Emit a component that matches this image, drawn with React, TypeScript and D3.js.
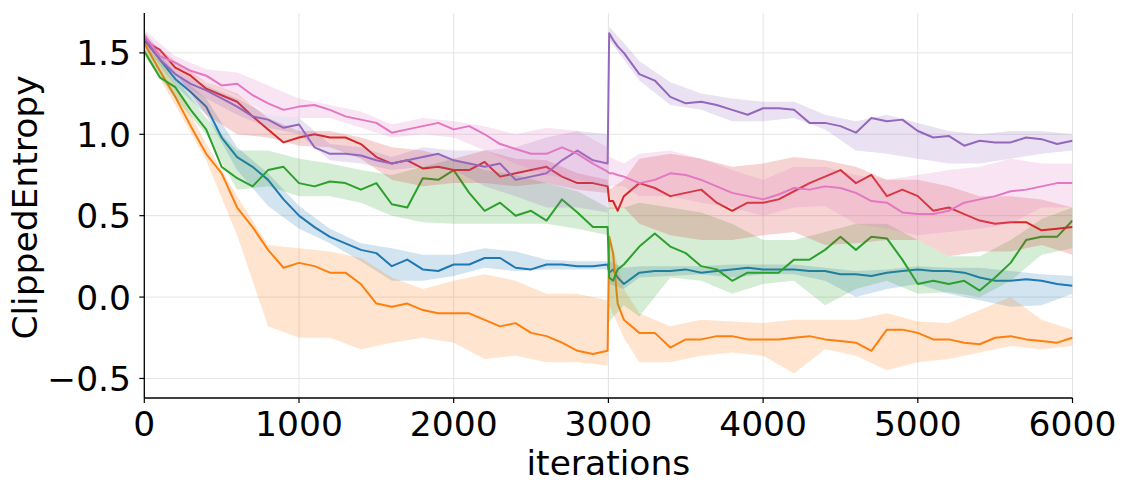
import { area, line, range, scaleLinear } from "d3";

// iteration grid for the mean curves (extra samples around the reset at 3000)
const iterations = [...range(0, 3000, 100), 2995, 3005, 3030, 3060, ...range(3100, 6001, 100)];
// coarser grid for the shaded spread
const bandIterations = [...range(0, 3000, 200), 2995, 3005, 3100, ...range(3200, 6001, 200)];

const xTicks = [0, 1000, 2000, 3000, 4000, 5000, 6000];
const yTicks = [-0.5, 0, 0.5, 1, 1.5];

const blueMean = [
  1.58, 1.46, 1.34, 1.26, 1.17, 0.98, 0.86, 0.8, 0.72, 0.6,
  0.5, 0.43, 0.37, 0.33, 0.29, 0.27, 0.19, 0.23, 0.17, 0.16,
  0.2, 0.2, 0.24, 0.24, 0.18, 0.17, 0.2, 0.2, 0.19, 0.19,
  0.2, 0.15, 0.17, 0.12,
  0.08, 0.15, 0.16, 0.16, 0.17, 0.15, 0.16, 0.17, 0.18, 0.17,
  0.17, 0.17, 0.16, 0.16, 0.14, 0.14, 0.13, 0.15, 0.16, 0.17,
  0.16, 0.16, 0.15, 0.12, 0.1, 0.1, 0.11, 0.1, 0.08, 0.07,
];
const orangeMean = [
  1.56, 1.39, 1.23, 1.05, 0.88, 0.76, 0.55, 0.43, 0.29, 0.18,
  0.21, 0.19, 0.15, 0.15, 0.08, -0.04, -0.06, -0.04, -0.08, -0.1,
  -0.1, -0.1, -0.14, -0.18, -0.16, -0.22, -0.24, -0.28, -0.33, -0.35,
  -0.33, 0.37, 0.27, -0.04,
  -0.14, -0.22, -0.22, -0.31, -0.26, -0.26, -0.24, -0.24, -0.26, -0.26,
  -0.26, -0.25, -0.24, -0.26, -0.27, -0.28, -0.33, -0.2, -0.2, -0.22,
  -0.26, -0.26, -0.28, -0.29, -0.25, -0.24, -0.26, -0.27, -0.28, -0.25,
];
const greenMean = [
  1.51, 1.35, 1.29, 1.15, 1.03, 0.8, 0.73, 0.68, 0.78, 0.8,
  0.7, 0.68, 0.71, 0.7, 0.66, 0.7, 0.57, 0.55, 0.73, 0.72,
  0.78, 0.64, 0.53, 0.58, 0.5, 0.53, 0.47, 0.6, 0.52, 0.43,
  0.43, 0.12, 0.1, 0.17,
  0.2, 0.31, 0.39, 0.31, 0.27, 0.19, 0.17, 0.1, 0.15, 0.15,
  0.15, 0.23, 0.23, 0.29, 0.37, 0.29, 0.37, 0.36, 0.23, 0.08,
  0.1, 0.08, 0.1, 0.04, 0.12, 0.21, 0.35, 0.37, 0.37, 0.47,
];
const redMean = [
  1.57, 1.52, 1.41, 1.36, 1.28, 1.24, 1.2, 1.11, 1.03, 0.95,
  0.98, 1.0, 0.98, 0.98, 0.94, 0.86, 0.82, 0.84, 0.79, 0.8,
  0.78, 0.78, 0.83, 0.74, 0.76, 0.78, 0.8, 0.74, 0.7, 0.7,
  0.68, 0.59, 0.59, 0.53,
  0.62, 0.7, 0.67, 0.62, 0.64, 0.66, 0.58, 0.53, 0.58, 0.58,
  0.6, 0.65, 0.7, 0.74, 0.78, 0.7, 0.75, 0.62, 0.66, 0.62,
  0.53, 0.55, 0.51, 0.47, 0.45, 0.46, 0.46, 0.41, 0.42, 0.43,
];
const purpleMean = [
  1.59, 1.46, 1.37, 1.31, 1.27, 1.22, 1.17, 1.11, 1.09, 1.04,
  1.06, 0.92, 0.88, 0.88, 0.87, 0.84, 0.82, 0.84, 0.86, 0.88,
  0.84, 0.82, 0.8, 0.82, 0.72, 0.74, 0.76, 0.84, 0.9, 0.84,
  0.82, 1.62, 1.58, 1.54,
  1.5, 1.37, 1.33, 1.23, 1.19, 1.2, 1.18, 1.15, 1.12, 1.16,
  1.16, 1.15, 1.07, 1.07, 1.05, 1.01, 1.1, 1.08, 1.09, 1.02,
  0.98, 0.99, 0.93, 0.96, 0.95, 0.95, 0.98, 0.97, 0.94, 0.96,
];
const pinkMean = [
  1.61, 1.48, 1.44, 1.39, 1.36, 1.3, 1.31, 1.24, 1.19, 1.15,
  1.17, 1.18, 1.15, 1.11, 1.09, 1.07, 1.01, 1.03, 1.05, 1.07,
  1.03, 1.05, 1.0, 0.94, 0.91, 0.88, 0.88, 0.92, 0.88, 0.82,
  0.77, 0.76, 0.76, 0.75,
  0.74, 0.7, 0.72, 0.76, 0.75, 0.72, 0.68, 0.64, 0.62, 0.6,
  0.63, 0.67, 0.66, 0.68, 0.67, 0.64, 0.59, 0.58, 0.52, 0.51,
  0.51, 0.53, 0.58, 0.6, 0.62, 0.65, 0.66, 0.68, 0.7, 0.7,
];

const blueLow = [1.55, 1.3, 1.12, 0.78, 0.56, 0.42, 0.33, 0.22, 0.1, 0.1, 0.13, 0.18, 0.16, 0.17, 0.17, 0.17, 0.08, 0.05, 0.12, 0.13, 0.14, 0.12, 0.14, 0.14, 0.1, 0.0, 0.05, 0.08, 0.02, -0.02, -0.06, -0.05, 0.02];
const blueHigh = [1.6, 1.38, 1.22, 0.92, 0.76, 0.56, 0.42, 0.33, 0.3, 0.26, 0.26, 0.3, 0.28, 0.23, 0.22, 0.22, 0.22, 0.18, 0.19, 0.19, 0.19, 0.2, 0.2, 0.2, 0.18, 0.16, 0.17, 0.19, 0.18, 0.18, 0.16, 0.14, 0.13];
const orangeLow = [1.5, 1.18, 0.84, 0.38, -0.18, -0.25, -0.25, -0.32, -0.28, -0.25, -0.28, -0.38, -0.36, -0.4, -0.4, -0.42, -0.05, -0.25, -0.4, -0.4, -0.36, -0.34, -0.36, -0.47, -0.32, -0.36, -0.45, -0.4, -0.38, -0.34, -0.3, -0.32, -0.3];
const orangeHigh = [1.6, 1.3, 0.94, 0.62, 0.32, 0.3, 0.28, 0.24, 0.12, 0.05, 0.1, 0.14, 0.1, 0.02, 0.02, -0.02, 0.4, 0.05, -0.1, -0.18, -0.14, -0.15, -0.16, -0.14, -0.14, -0.14, -0.1, -0.15, -0.16, -0.08, 0.0, -0.14, -0.2];
const greenLow = [1.48, 1.22, 1.0, 0.66, 0.68, 0.62, 0.62, 0.58, 0.5, 0.46, 0.45, 0.45, 0.45, 0.45, 0.42, 0.38, -0.15, -0.05, -0.12, 0.12, 0.1, 0.02, 0.08, 0.1, -0.05, 0.05, 0.1, 0.02, 0.03, 0.0, 0.1, 0.26, 0.3];
const greenHigh = [1.55, 1.35, 1.1, 0.9, 0.9, 0.85, 0.82, 0.78, 0.75, 0.8, 0.85, 0.78, 0.75, 0.7, 0.65, 0.55, 0.55, 0.55, 0.58, 0.55, 0.52, 0.45, 0.35, 0.35, 0.4, 0.45, 0.45, 0.35, 0.25, 0.25, 0.35, 0.48, 0.55];
const redLow = [1.55, 1.38, 1.12, 1.0, 0.98, 0.93, 0.92, 0.85, 0.72, 0.68, 0.7, 0.7, 0.68, 0.7, 0.66, 0.64, 0.54, 0.55, 0.45, 0.38, 0.35, 0.35, 0.38, 0.4, 0.32, 0.33, 0.35, 0.35, 0.25, 0.28, 0.28, 0.32, 0.26];
const redHigh = [1.6, 1.45, 1.32, 1.25, 1.1, 1.02, 1.02, 0.98, 0.92, 0.9, 0.85, 0.9, 0.85, 0.84, 0.76, 0.72, 0.66, 0.72, 0.85, 0.88, 0.85, 0.8, 0.82, 0.86, 0.84, 0.8, 0.72, 0.72, 0.68, 0.62, 0.62, 0.6, 0.55];
const purpleLow = [1.57, 1.33, 1.22, 1.12, 1.04, 1.0, 0.84, 0.82, 0.78, 0.8, 0.78, 0.68, 0.62, 0.55, 0.55, 0.52, 1.58, 1.46, 1.33, 1.18, 1.15, 1.08, 1.08, 1.1, 1.03, 0.9, 0.88, 0.85, 0.82, 0.82, 0.85, 0.88, 0.9];
const purpleHigh = [1.63, 1.4, 1.3, 1.22, 1.12, 1.1, 0.94, 0.92, 0.86, 0.92, 0.9, 0.9, 0.92, 0.98, 1.02, 1.0, 1.66, 1.56, 1.45, 1.32, 1.25, 1.22, 1.2, 1.2, 1.12, 1.08, 1.12, 1.07, 1.02, 1.0, 1.02, 1.02, 1.0];
const pinkLow = [1.58, 1.42, 1.32, 1.24, 1.12, 1.1, 1.1, 1.04, 0.98, 1.0, 0.98, 0.9, 0.82, 0.75, 0.72, 0.68, 0.68, 0.68, 0.62, 0.62, 0.58, 0.55, 0.5, 0.55, 0.56, 0.45, 0.42, 0.38, 0.4, 0.42, 0.45, 0.55, 0.55];
const pinkHigh = [1.64, 1.48, 1.4, 1.38, 1.3, 1.22, 1.18, 1.14, 1.06, 1.1, 1.08, 1.05, 1.0, 1.04, 1.02, 0.92, 0.86, 0.82, 0.88, 0.9, 0.85, 0.78, 0.72, 0.8, 0.8, 0.75, 0.72, 0.75, 0.78, 0.8, 0.85, 0.82, 0.82];

const series = [
  { color: "#1f77b4", mean: blueMean, low: blueLow, high: blueHigh },
  { color: "#ff7f0e", mean: orangeMean, low: orangeLow, high: orangeHigh },
  { color: "#2ca02c", mean: greenMean, low: greenLow, high: greenHigh },
  { color: "#d62728", mean: redMean, low: redLow, high: redHigh },
  { color: "#9467bd", mean: purpleMean, low: purpleLow, high: purpleHigh },
  { color: "#e377c2", mean: pinkMean, low: pinkLow, high: pinkHigh },
];

const width = 1127;
const height = 491;
const left = 144.3;
const right = 1072.5;
const top = 13;
const bottom = 398;
const font = "DejaVu Sans, sans-serif";

export default function App() {
  const x = scaleLinear().domain([0, 6000]).range([left, right]);
  const y = scaleLinear().domain([-0.62, 1.745]).range([bottom, top]);

  const meanLine = (values: number[]) =>
    line<number>()
      .x((_, i) => x(iterations[i]))
      .y((v) => y(v))(values) ?? "";

  const bandArea = (low: number[], high: number[]) =>
    area<number>()
      .x((_, i) => x(bandIterations[i]))
      .y0((_, i) => y(low[i]))
      .y1((_, i) => y(high[i]))(low) ?? "";

  return (
    <svg
      width={width}
      height={height}
      viewBox={`0 0 ${width} ${height}`}
      style={{ position: "absolute", left: 0, top: 0, background: "#fff" }}
      fontFamily={font}
    >
      <defs>
        <clipPath id="plot">
          <rect x={left} y={top} width={right - left} height={bottom - top} />
        </clipPath>
      </defs>

      {/* grid */}
      {xTicks.map((t) => (
        <line key={`gx${t}`} x1={x(t)} x2={x(t)} y1={top} y2={bottom} stroke="#e3e3e3" strokeWidth={1} />
      ))}
      {yTicks.map((t) => (
        <line key={`gy${t}`} x1={left} x2={right} y1={y(t)} y2={y(t)} stroke="#e3e3e3" strokeWidth={1} />
      ))}

      <g clipPath="url(#plot)">
        {series.map((s) => (
          <g key={s.color}>
            <path d={bandArea(s.low, s.high)} fill={s.color} fillOpacity={0.2} stroke="none" />
            <path d={meanLine(s.mean)} fill="none" stroke={s.color} strokeWidth={2} strokeLinejoin="round" />
          </g>
        ))}
      </g>

      {/* spines */}
      <line x1={left} x2={left} y1={top} y2={bottom} stroke="#000" strokeWidth={1.3} />
      <line x1={left} x2={right} y1={bottom} y2={bottom} stroke="#000" strokeWidth={1.3} />

      {xTicks.map((t) => (
        <g key={`tx${t}`}>
          <line x1={x(t)} x2={x(t)} y1={bottom} y2={bottom + 5} stroke="#000" strokeWidth={1.2} />
          <text x={x(t)} y={436} textAnchor="middle" fontSize={34.5} fill="#000">
            {t}
          </text>
        </g>
      ))}
      {yTicks.map((t) => (
        <g key={`ty${t}`}>
          <line x1={left - 5} x2={left} y1={y(t)} y2={y(t)} stroke="#000" strokeWidth={1.2} />
          <text x={131} y={y(t) + 12.5} textAnchor="end" fontSize={34.5} fill="#000">
            {t < 0 ? `\u2212${Math.abs(t).toFixed(1)}` : t.toFixed(1)}
          </text>
        </g>
      ))}

      <text x={(left + right) / 2} y={475} textAnchor="middle" fontSize={34.5} fill="#000">
        iterations
      </text>
      <text
        transform={`translate(37, ${(75 + 340) / 2}) rotate(-90)`}
        textAnchor="middle"
        fontSize={34.5}
        fill="#000"
      >
        ClippedEntropy
      </text>
    </svg>
  );
}
